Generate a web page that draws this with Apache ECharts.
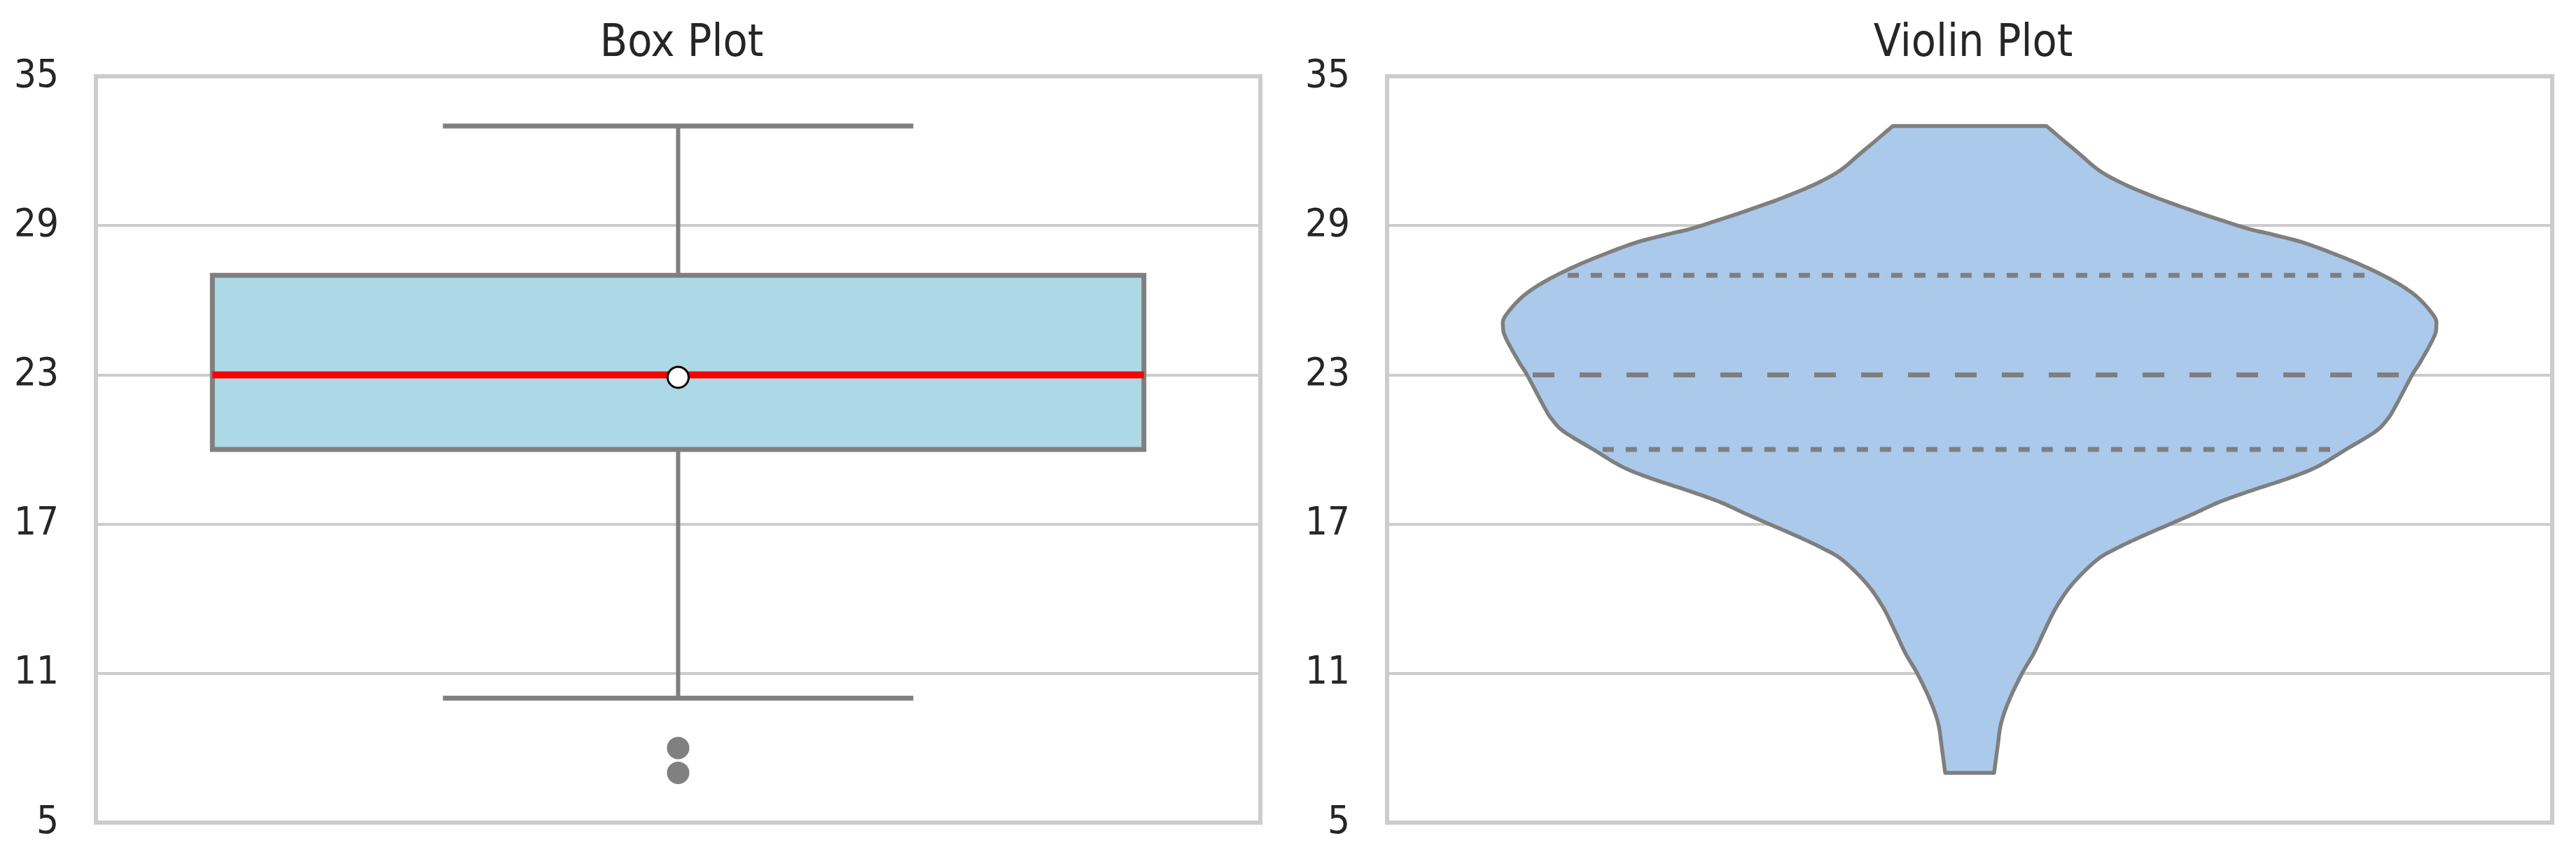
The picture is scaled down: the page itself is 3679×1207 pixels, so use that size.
<!DOCTYPE html>
<html>
<head>
<meta charset="utf-8">
<script src="https://cdn.jsdelivr.net/npm/echarts/dist/echarts.min.js"></script>
<style>
  html, body { margin: 0; padding: 0; background: #ffffff; }
  #chart { width: 3679px; height: 1207px; }
</style>
</head>
<body>
<div id="chart"></div>
<script>
// box plot: lower whisker, Q1, median, Q3, upper whisker
var boxStats = [10.0, 20.0, 23.0, 27.0, 33.0];
var boxMean = [22.9];
var boxOutliers = [8.0, 7.0];

// violin outline, read from top to bottom (value, half width in x-axis units)
var violinLevels = [33.0, 31.97, 31.03, 30.09, 28.98, 28.64, 28.22, 27.28, 26.34, 25.40, 24.93, 24.47, 23.53,
  22.97, 21.65, 21.18, 20.71, 20.0, 19.30, 18.83, 18.36, 17.89, 17.42, 16.96, 16.48, 16.01, 15.55,
  14.61, 13.67, 12.74, 11.80, 11.0, 9.93, 8.99, 8.05, 7.0];
var violinHalfWidths = [0.132, 0.184, 0.235, 0.324, 0.463, 0.520, 0.585, 0.685, 0.757, 0.796, 0.801, 0.796, 0.774,
  0.759, 0.729, 0.716, 0.696, 0.646, 0.596, 0.546, 0.485, 0.429, 0.385, 0.340, 0.293, 0.251, 0.218,
  0.177, 0.149, 0.129, 0.110, 0.090, 0.068, 0.054, 0.048, 0.042];
var violinQuartiles = [20.0, 23.0, 27.0];
var violinQuartileHalfWidths = [0.63, 0.75, 0.69];

var titles = ['Box Plot', 'Violin Plot'];

var LINE = '#7f7f7f';
var TEXT = '#262626';
var FONT = "'DejaVu Sans Condensed', 'DejaVu Sans'";

var chart = echarts.init(document.getElementById('chart'), null, { renderer: 'canvas' });

// catmull-rom through pixel points, just for a smooth outline
function smoothLine(pts, steps) {
  var out = [];
  for (var i = 0; i < pts.length - 1; i++) {
    var p0 = pts[Math.max(i - 1, 0)], p1 = pts[i], p2 = pts[i + 1], p3 = pts[Math.min(i + 2, pts.length - 1)];
    for (var s = 0; s < steps; s++) {
      var t = s / steps, t2 = t * t, t3 = t2 * t;
      out.push([0, 1].map(function (k) {
        return 0.5 * ((2 * p1[k]) + (-p0[k] + p2[k]) * t +
          (2 * p0[k] - 5 * p1[k] + 4 * p2[k] - p3[k]) * t2 +
          (-p0[k] + 3 * p1[k] - 3 * p2[k] + p3[k]) * t3);
      }));
    }
  }
  out.push(pts[pts.length - 1]);
  return out;
}

function renderBox(params, api) {
  var x = api.value(0);
  var lo = api.coord([x, api.value(1)]);
  var q1 = api.coord([x, api.value(2)]);
  var med = api.coord([x, api.value(3)]);
  var q3 = api.coord([x, api.value(4)]);
  var hi = api.coord([x, api.value(5)]);
  var bl = api.coord([x - 0.8, 0])[0], br = api.coord([x + 0.8, 0])[0];
  var cl = api.coord([x - 0.404, 0])[0], cr = api.coord([x + 0.404, 0])[0];
  var ls = { stroke: LINE, lineWidth: 6 };
  return {
    type: 'group',
    children: [
      { type: 'line', shape: { x1: hi[0], y1: hi[1], x2: q3[0], y2: q3[1] }, style: ls },
      { type: 'line', shape: { x1: q1[0], y1: q1[1], x2: lo[0], y2: lo[1] }, style: ls },
      { type: 'line', shape: { x1: cl, y1: hi[1], x2: cr, y2: hi[1] }, style: { stroke: LINE, lineWidth: 7 } },
      { type: 'line', shape: { x1: cl, y1: lo[1], x2: cr, y2: lo[1] }, style: { stroke: LINE, lineWidth: 7 } },
      { type: 'rect', shape: { x: bl, y: q3[1], width: br - bl, height: q1[1] - q3[1] },
        style: { fill: '#add8e6', stroke: LINE, lineWidth: 7 } },
      { type: 'line', shape: { x1: bl, y1: med[1], x2: br, y2: med[1] },
        style: { stroke: '#ff0000', lineWidth: 10 } }
    ]
  };
}

function renderViolin(params, api) {
  var right = violinLevels.map(function (v, i) { return api.coord([violinHalfWidths[i], v]); });
  var left = violinLevels.map(function (v, i) { return api.coord([-violinHalfWidths[i], v]); });
  var pts = smoothLine(right, 10).concat(smoothLine(left, 10).reverse());
  var children = [{
    type: 'polygon',
    shape: { points: pts },
    style: { fill: '#abc9ea', stroke: LINE, lineWidth: 5.5, lineJoin: 'round' }
  }];
  violinQuartiles.forEach(function (q, i) {
    var a = api.coord([-violinQuartileHalfWidths[i], q]);
    var b = api.coord([violinQuartileHalfWidths[i], q]);
    children.push({
      type: 'line',
      shape: { x1: a[0], y1: a[1], x2: b[0], y2: b[1] },
      style: { stroke: LINE, lineWidth: 7, lineDash: i === 1 ? [31, 36] : [16, 17] }
    });
  });
  return { type: 'group', children: children };
}

var grids = [
  { left: 137, right: 1879, top: 109, bottom: 32 },
  { left: 1981, right: 34, top: 109, bottom: 32 }
];

var option = {
  backgroundColor: '#ffffff',
  animation: false,
  title: titles.map(function (t, i) {
    var g = grids[i];
    return {
      text: t, left: (g.left + (3679 - g.right)) / 2, top: 26, textAlign: 'center',
      textStyle: { fontFamily: FONT, fontSize: 64, fontWeight: 'normal', color: TEXT }
    };
  }),
  grid: grids.map(function (g) {
    return Object.assign({ show: true, borderColor: '#cccccc', borderWidth: 6, backgroundColor: 'transparent' }, g);
  }),
  xAxis: [0, 1].map(function (i) {
    return { type: 'value', gridIndex: i, min: -1, max: 1, show: false };
  }),
  yAxis: [0, 1].map(function (i) {
    return {
      type: 'value', gridIndex: i, min: 5, max: 35, interval: 6,
      axisLine: { show: false }, axisTick: { show: false },
      axisLabel: { fontFamily: FONT, fontSize: 56, color: TEXT, margin: 53 },
      splitLine: { lineStyle: { color: '#cccccc', width: 4 } }
    };
  }),
  series: [
    {
      type: 'custom', xAxisIndex: 0, yAxisIndex: 0,
      data: [[0].concat(boxStats)],
      encode: { x: 0, y: [1, 2, 3, 4, 5] },
      renderItem: renderBox, z: 2
    },
    {
      type: 'scatter', xAxisIndex: 0, yAxisIndex: 0,
      data: boxOutliers.map(function (v) { return [0, v]; }),
      symbol: 'circle', symbolSize: 32,
      itemStyle: { color: '#808080', opacity: 1 }, z: 3
    },
    {
      type: 'scatter', xAxisIndex: 0, yAxisIndex: 0,
      data: boxMean.map(function (v) { return [0, v]; }),
      symbol: 'circle', symbolSize: 30,
      itemStyle: { color: '#ffffff', borderColor: '#000000', borderWidth: 3, opacity: 1 }, z: 4
    },
    {
      type: 'custom', xAxisIndex: 1, yAxisIndex: 1,
      data: [[0, violinLevels[0]]],
      encode: { x: 0, y: 1 },
      renderItem: renderViolin, z: 2
    }
  ]
};

chart.setOption(option);
window.onresize = chart.resize;
</script>
</body>
</html>
